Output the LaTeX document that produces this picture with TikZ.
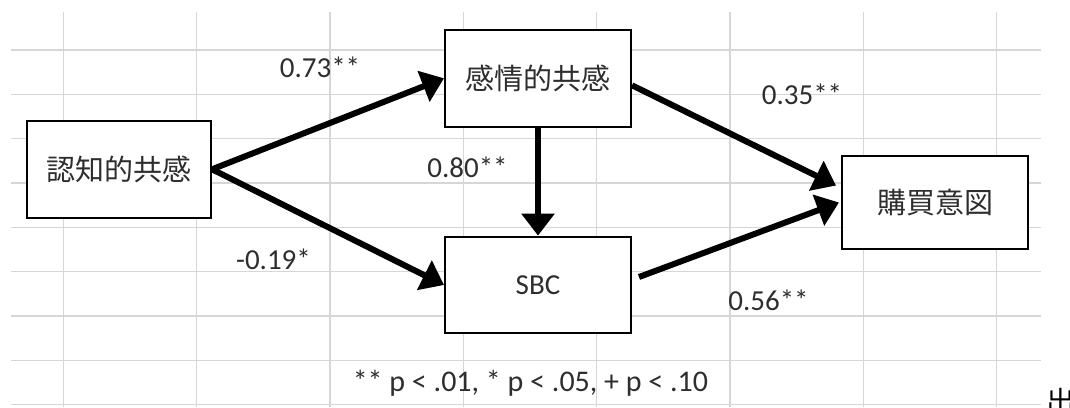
\documentclass[tikz,border=0pt]{standalone}
\usepackage{fontspec}
\setmainfont{Carlito}
\newfontfamily\jp{Noto Sans CJK JP}
\usetikzlibrary{arrows.meta}
\definecolor{gridgray}{HTML}{D6D6D6}
\definecolor{textgray}{HTML}{2E2E2E}
\begin{document}
\begin{tikzpicture}[x=1pt,y=-1pt,
  gridline/.style={draw=gridgray,line width=1.3pt},
  box/.style={draw=black,line width=2pt,fill=white,minimum width=186pt,minimum height=96.7pt,inner sep=0pt,text=textgray,font=\fontsize{29}{34}\selectfont},
  jpbox/.style={box,font=\jp\fontsize{29}{34}\selectfont},
  arr/.style={line width=6pt,-{Triangle[length=22pt,width=32pt]}},
  lab/.style={inner sep=0pt,text=textgray,font=\fontsize{29}{34}\selectfont}]
\useasboundingbox (0,0) rectangle (1070,407);
\clip (0,0) rectangle (1070,407);
\fill[white] (0,0) rectangle (1070,407);
% spreadsheet grid
\foreach \y in {50,94.3,138.7,183,227.3,271.7,316,360.3,404.7}
  \draw[gridline] (11,\y) -- (1041,\y);
\foreach \x in {63.3,196.7,330,463.3,596.7,730,863.3,996.7}
  \draw[gridline] (\x,12) -- (\x,407);
% nodes
\node[jpbox,minimum width=184.3pt] (cog) at (118.9,169.3) {認知的共感};
\node[jpbox] (aff) at (538,78.3) {感情的共感};
\node[box] (sbc) at (538,285) {SBC};
\node[jpbox,minimum height=93.6pt] (pur) at (935,202.5) {購買意図};
% connectors
\draw[arr] (cog.east) -- (aff.west);
\draw[arr] (cog.east) -- (sbc.west);
\draw[arr] (aff.south) -- (sbc.north);
\draw[arr] ([yshift=-7pt]aff.east) -- ([shift={(-5pt,17pt)}]pur.west);
\draw[arr] ([shift={(7pt,8pt)}]sbc.east) -- ([xshift=-2pt]pur.west);
% labels
\node[lab] (l73) at (320,67.5) {0.73**};
\node[lab] (l80) at (467.5,167) {0.80**};
\node[lab] (l19) at (273.5,259) {-0.19*};
\node[lab] (l35) at (802,94) {0.35**};
\node[lab] (l56) at (768.5,300) {0.56**};
\node[lab,font=\fontsize{30}{34}\selectfont] (note) at (530.5,383) {** p < .01, * p < .05, + p < .10};
\node[inner sep=0pt,anchor=base west,font=\jp\fontsize{29}{34}\selectfont] (src) at (1046,412) {出};
\end{tikzpicture}
\end{document}
